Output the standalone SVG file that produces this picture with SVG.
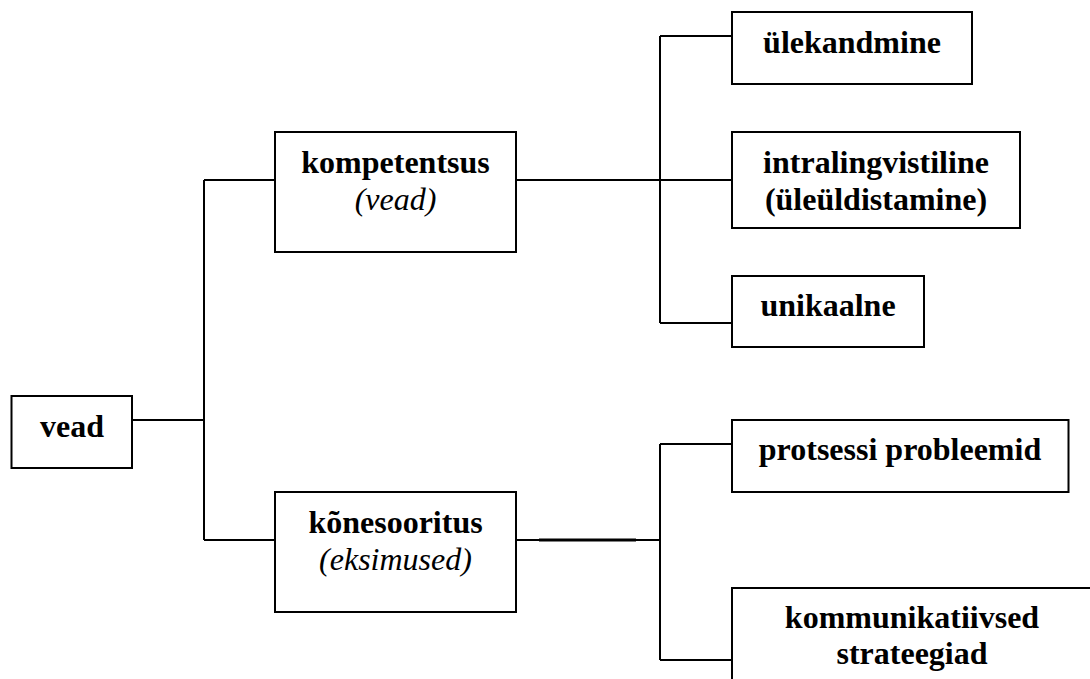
<svg xmlns="http://www.w3.org/2000/svg" width="1090" height="679" viewBox="0 0 1090 679">
<style>
.box{fill:#fff;stroke:#000;stroke-width:2}
.ln{fill:none;stroke:#000;stroke-width:2}
.t{font-family:"Liberation Serif","Times New Roman",serif;font-size:32px;font-weight:bold;text-anchor:middle;fill:#000}
.i{font-family:"Liberation Serif","DejaVu Serif","Times New Roman",serif;font-size:32px;font-weight:normal;font-style:italic;text-anchor:middle;fill:#000}
</style>
<rect width="1090" height="679" fill="#fff"/>
<g id="connectors">
<path class="ln" d="M132,420 H204 M204,180 V540 M204,180 H275 M204,540 H275"/>
<path class="ln" d="M516,180 H732 M660,36 V323 M660,36 H732 M660,323 H732"/>
<path class="ln" d="M516,540 H660 M660,444 V660 M660,444 H732 M660,660 H732"/>
<path class="ln" style="stroke-width:3" d="M539,540 H636"/>
</g>
<g id="vead">
<rect class="box" x="11.5" y="396" width="120.5" height="72"/>
<text class="t" x="72" y="437">vead</text>
</g>
<g id="kompetentsus">
<rect class="box" x="275" y="132" width="241" height="120"/>
<text class="t" x="395.5" y="173">kompetentsus</text>
<text class="i" x="395.5" y="210">(vead)</text>
</g>
<g id="konesooritus">
<rect class="box" x="275" y="492" width="241" height="120"/>
<text class="t" x="395.5" y="533">kõnesooritus</text>
<text class="i" x="395.5" y="570">(eksimused)</text>
</g>
<g id="ulekandmine">
<rect class="box" x="732" y="12" width="240" height="72"/>
<text class="t" x="852" y="53">ülekandmine</text>
</g>
<g id="intralingvistiline">
<rect class="box" x="732" y="132" width="288" height="96"/>
<text class="t" x="876" y="173">intralingvistiline</text>
<text class="t" x="876" y="210">(üleüldistamine)</text>
</g>
<g id="unikaalne">
<rect class="box" x="732" y="276" width="192" height="71"/>
<text class="t" x="828" y="316">unikaalne</text>
</g>
<g id="protsessi">
<rect class="box" x="732" y="420" width="336.5" height="72"/>
<text class="t" x="900" y="460">protsessi probleemid</text>
</g>
<g id="kommunikatiivsed">
<rect class="box" x="732" y="588" width="360" height="120"/>
<text class="t" x="912" y="628">kommunikatiivsed</text>
<text class="t" x="912" y="664">strateegiad</text>
</g>
</svg>
